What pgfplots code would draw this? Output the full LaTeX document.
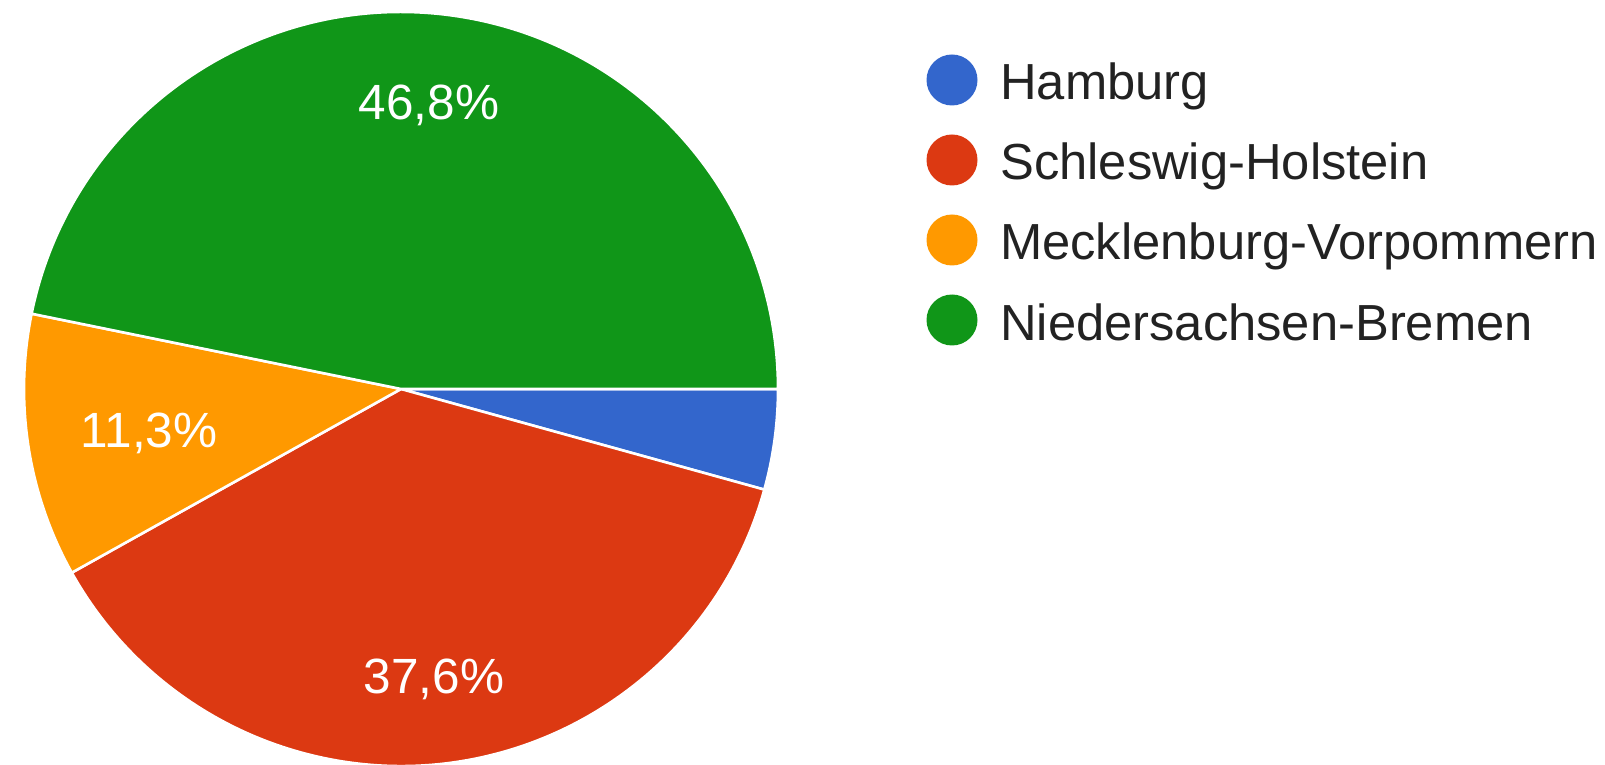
\documentclass[border=0pt]{standalone}
\usepackage{pgfplots}
\pgfplotsset{compat=1.18}
\usepackage{fontspec}
\setmainfont{Liberation Sans}
\definecolor{gblue}{HTML}{3366CC}
\definecolor{gred}{HTML}{DC3912}
\definecolor{gorange}{HTML}{FF9900}
\definecolor{ggreen}{HTML}{109618}
\definecolor{gtext}{HTML}{222222}
% data (percent): Hamburg 4.3, Schleswig-Holstein 37.6, Mecklenburg-Vorpommern 11.3, Niedersachsen-Bremen 46.8
\newcommand{\slice}[3]{%
  \fill[#3, draw=white, line width=2.6pt, line join=round]
    (axis cs:0,0) -- (axis cs:{cos(-3.6*#1)},{sin(-3.6*#1)})
    arc[start angle={-3.6*#1}, end angle={-3.6*#2}, radius=377pt] -- cycle;}
\begin{document}
\begin{tikzpicture}[x=1pt,y=1pt]
\path[use as bounding box] (0,0) rectangle (1605,764);
\begin{axis}[
  scale only axis, width=754pt, height=754pt,
  xmin=-1, xmax=1, ymin=-1, ymax=1,
  hide axis, clip=false,
  at={(401pt,375pt)}, anchor=origin]
  \slice{0}{4.3}{gblue}
  \slice{4.3}{41.9}{gred}
  \slice{41.9}{53.2}{gorange}
  \slice{53.2}{100}{ggreen}
\end{axis}
\begin{scope}[every node/.style={font=\fontsize{49.5}{58}\selectfont, text=white, inner sep=0pt, anchor=base}]
  \node at (429,644) {46,8\%};
  \node at (149,317) {11,3\%};
  \node at (434,71) {37,6\%};
\end{scope}
\begin{scope}[every node/.style={font=\fontsize{50.7}{60}\selectfont, text=gtext, inner sep=0pt, anchor=base west}]
  \fill[gblue] (952,684) circle[radius=25.5];
  \node at (1000,664) {Hamburg};
  \fill[gred] (952,604) circle[radius=25.5];
  \node at (1000,584) {Schleswig-Holstein};
  \fill[gorange] (952,524) circle[radius=25.5];
  \node at (1000,504) {Mecklenburg-Vorpommern};
  \fill[ggreen] (952,444) circle[radius=25.5];
  \node at (1000,424) {Niedersachsen-Bremen};
\end{scope}
\end{tikzpicture}
\end{document}
